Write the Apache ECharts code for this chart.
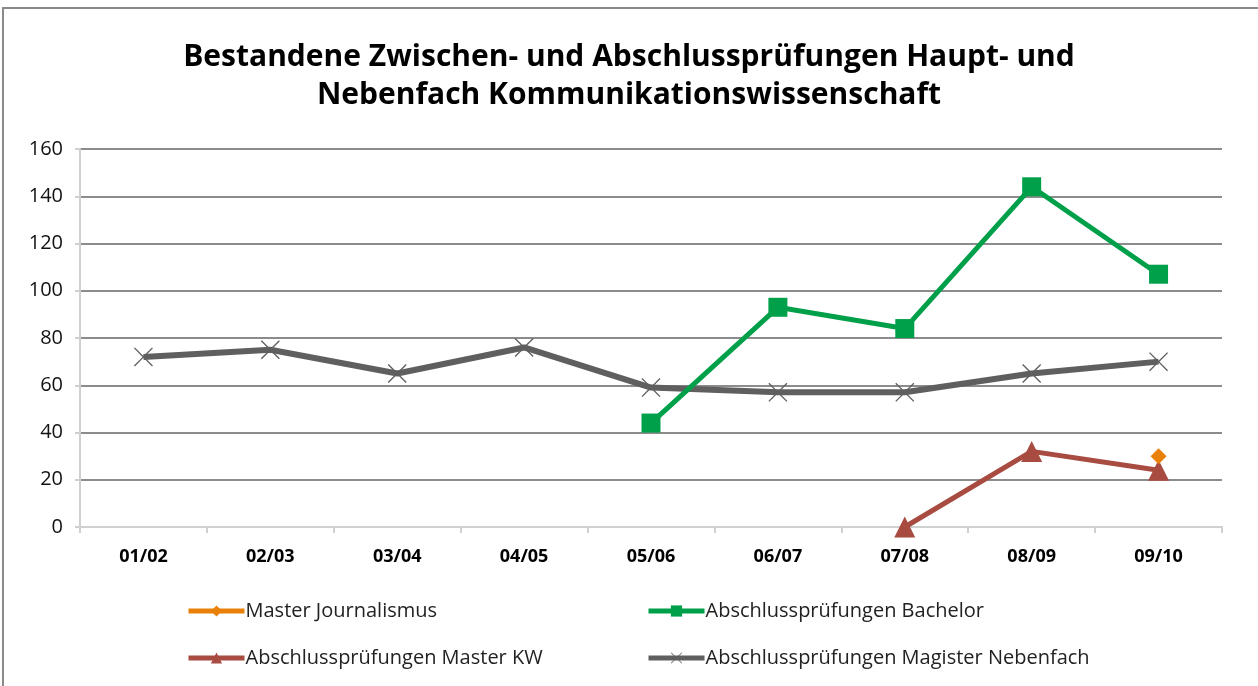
<!DOCTYPE html>
<html>
<head>
<meta charset="utf-8">
<script src="https://cdn.jsdelivr.net/npm/echarts@6/dist/echarts.min.js"></script>
<style>
  html, body { margin: 0; padding: 0; background: #fff; }
  #main { width: 1258px; height: 686px; }
</style>
</head>
<body>
<div id="main"></div>
<script>
var semesters = ['01/02', '02/03', '03/04', '04/05', '05/06', '06/07', '07/08', '08/09', '09/10'];
var masterJournalismus = [null, null, null, null, null, null, null, null, 30];
var bachelor = [null, null, null, null, 44, 93, 84, 144, 107];
var masterKW = [null, null, null, null, null, null, 0, 32, 24];
var magisterNebenfach = [72, 75, 65, 76, 59, 57, 57, 65, 70];
var yTicks = [0, 160, 20];

var crossPath = 'path://M0,1 L1,0 L10,9 L19,0 L20,1 L11,10 L20,19 L19,20 L10,11 L1,20 L0,19 L9,10 Z';
var fontName = '"Open Sans", "DejaVu Sans", sans-serif';

var myChart = echarts.init(document.getElementById('main'));

function legendBlock(left, names) {
    return {
        orient: 'vertical',
        left: left,
        top: 596,
        itemWidth: 56,
        itemHeight: 14,
        itemGap: 27,
        lineStyle: { width: 5 },
        textStyle: { fontFamily: fontName, fontSize: 20, color: '#222', padding: [0, 0, 0, -4] },
        data: names
    };
}

var option = {
    animation: false,
    backgroundColor: '#fff',
    title: {
        text: 'Bestandene Zwischen- und Abschlussprüfungen Haupt- und\nNebenfach Kommunikationswissenschaft',
        left: 'center',
        top: 33,
        textStyle: {
            fontFamily: fontName,
            fontWeight: 'bold',
            fontSize: 30,
            lineHeight: 38,
            color: '#000'
        }
    },
    graphic: [{
        type: 'rect',
        shape: { x: 3, y: 8, width: 1300, height: 700 },
        style: { fill: 'none', stroke: '#8a8a8a', lineWidth: 2 },
        silent: true
    }],
    legend: [
        legendBlock(181, ['Master Journalismus', 'Abschlussprüfungen Master KW']),
        legendBlock(641, ['Abschlussprüfungen Bachelor', 'Abschlussprüfungen Magister Nebenfach'])
    ],
    grid: {
        left: 80,
        right: 36,
        top: 149,
        bottom: 159,
        containLabel: false
    },
    xAxis: {
        type: 'category',
        data: semesters,
        boundaryGap: true,
        axisLine: { lineStyle: { color: '#d0d0d0', width: 2 } },
        axisTick: { show: true, length: 6, lineStyle: { color: '#d0d0d0', width: 2 } },
        axisLabel: {
            fontFamily: fontName,
            fontWeight: 'bold',
            fontSize: 18,
            color: '#000',
            margin: 21
        },
        splitLine: { show: false }
    },
    yAxis: {
        type: 'value',
        min: yTicks[0],
        max: yTicks[1],
        interval: yTicks[2],
        axisLine: { show: true, lineStyle: { color: '#d0d0d0', width: 2 } },
        axisTick: { show: true, length: 5, lineStyle: { color: '#d0d0d0', width: 2 } },
        axisLabel: {
            fontFamily: fontName,
            fontSize: 20,
            color: '#111',
            margin: 17
        },
        splitLine: { show: true, lineStyle: { color: '#8c8c8c', width: 2 } }
    },
    series: [{
        name: 'Master Journalismus',
        type: 'line',
        data: masterJournalismus,
        symbol: 'diamond',
        symbolSize: 16,
        itemStyle: { color: '#e8800a' },
        lineStyle: { color: '#e8800a', width: 5 },
        z: 5
    }, {
        name: 'Abschlussprüfungen Bachelor',
        type: 'line',
        data: bachelor,
        symbol: 'rect',
        symbolSize: 19,
        itemStyle: { color: '#00a04a' },
        lineStyle: { color: '#00a04a', width: 5 },
        z: 3
    }, {
        name: 'Abschlussprüfungen Master KW',
        type: 'line',
        data: masterKW,
        symbol: 'triangle',
        symbolSize: 21,
        itemStyle: { color: '#a84b40' },
        lineStyle: { color: '#a84b40', width: 5 },
        z: 4
    }, {
        name: 'Abschlussprüfungen Magister Nebenfach',
        type: 'line',
        data: magisterNebenfach,
        symbol: crossPath,
        symbolSize: 19,
        itemStyle: { color: '#5f5f5f' },
        lineStyle: { color: '#5f5f5f', width: 6 },
        z: 2
    }]
};

myChart.setOption(option);
</script>
</body>
</html>
